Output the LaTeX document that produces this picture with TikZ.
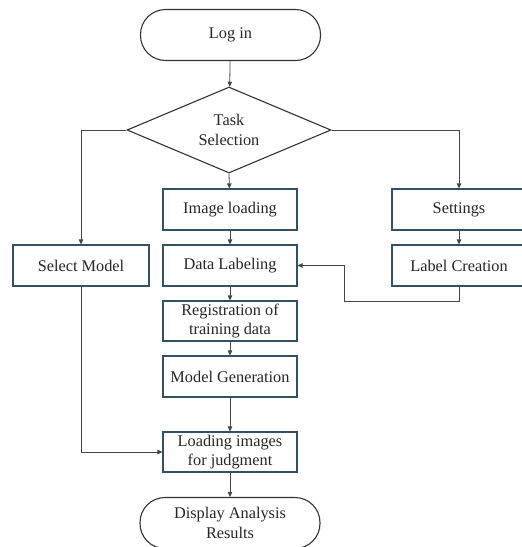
\documentclass[tikz,border=0pt]{standalone}
\usepackage{fontspec}
\setmainfont{Liberation Serif}
\usetikzlibrary{shapes.geometric,arrows.meta}
\definecolor{boxline}{RGB}{52,80,100}
\definecolor{conn}{RGB}{70,70,70}
\begin{document}
\begin{tikzpicture}[x=1pt,y=-1pt,
  font=\fontsize{16.3}{19.5}\selectfont,
  procbox/.style={draw=boxline,line width=1.1pt,minimum width=134pt,minimum height=41pt,inner sep=1pt,align=center,text=black!85},
  term/.style={draw=black!80,line width=1.1pt,rounded corners=25pt,minimum width=180pt,minimum height=51pt,align=center,text=black!85},
  choice/.style={draw=black!80,line width=1.1pt,diamond,aspect=2.37,minimum width=204pt,minimum height=86pt,inner sep=0pt,align=center,text=black!85},
  flow/.style={draw=conn,line width=0.8pt,-{Triangle[length=5pt,width=4.5pt]}}]
\useasboundingbox (0,0) rectangle (522,547);
\node[term] (login) at (230.5,35) {Log in};
\node[choice] (task) at (229,130) {Task\\Selection};
\node[procbox] (img) at (230,209.5) {Image loading};
\node[procbox] (settings) at (459,209.5) {Settings};
\node[procbox, minimum width=136pt] (sel) at (81,265.5) {Select Model};
\node[procbox] (lab) at (230,265.5) {Data Labeling};
\node[procbox] (lc) at (459,265.5) {Label Creation};
\node[procbox,minimum height=40pt] (reg) at (230,321) {Registration of\\training data};
\node[procbox] (gen) at (230,376.5) {Model Generation};
\node[procbox,minimum height=40pt] (load) at (230,452) {Loading images\\for judgment};
\node[term] (disp) at (230,523) {Display Analysis\\Results};
\coordinate (fb1) at (344,301);
\draw[flow] (login) -- (task);
\draw[flow] (task.south) -- (img);
\draw[flow] (task.west) -| (sel.north);
\draw[flow] (task.east) -| (settings.north);
\draw[flow] (img) -- (lab);
\draw[flow] (settings) -- (lc);
\draw[flow] (lab) -- (reg);
\draw[flow] (reg) -- (gen);
\draw[flow] (gen) -- (load);
\draw[flow] (load) -- (disp);
\draw[flow] (sel.south) |- (load.west);
\draw[flow] (lc.south) |- (fb1) |- (lab.east);
\end{tikzpicture}
\end{document}
